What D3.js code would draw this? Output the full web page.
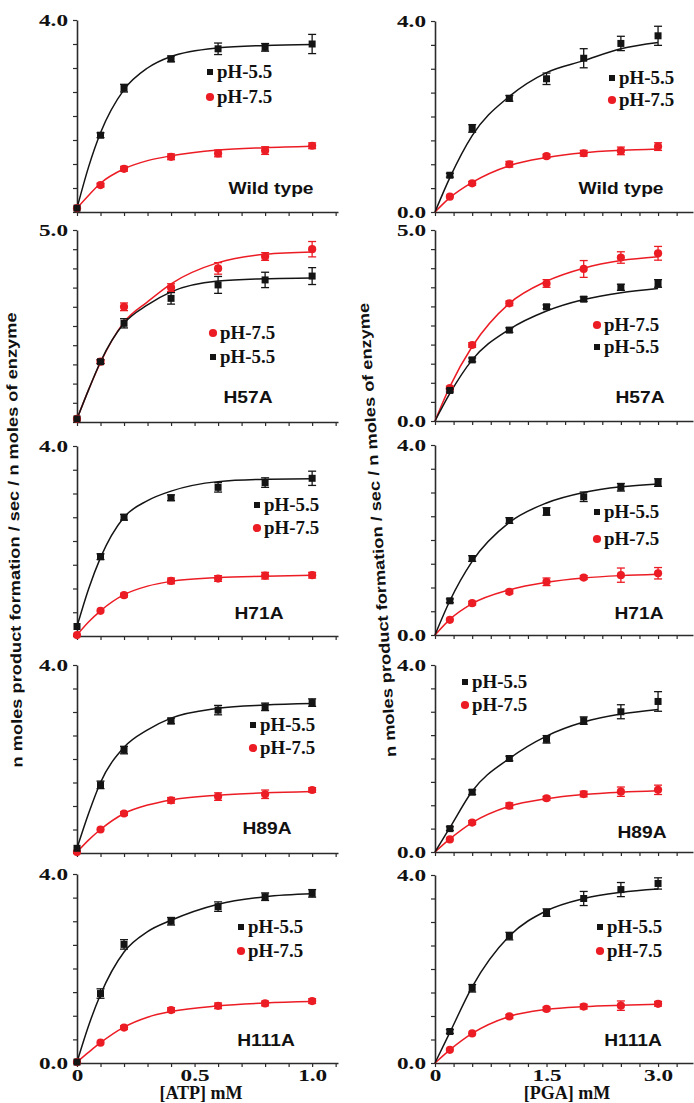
<!DOCTYPE html>
<html>
<head>
<meta charset="utf-8">
<script src="https://cdn.jsdelivr.net/npm/d3@7"></script>
<style>
  body { margin: 0; background: #fff; }
  svg { display: block; }
</style>
</head>
<body>
<svg id="chart" width="694" height="1103"></svg>
<script>
// substrate concentrations (mM)
const atpX = [0, 0.1, 0.2, 0.4, 0.6, 0.8, 1.0];
const pgaX = [0.2, 0.5, 1.0, 1.5, 2.0, 2.5, 3.0];
const atpFitX = [0, 0.05, 0.1, 0.2, 0.3, 0.4, 0.6, 0.8, 1.0];
const pgaFitX = [0, 0.2, 0.5, 1.0, 1.5, 2.0, 2.5, 3.0];

// Wild type
const wtAtp55 = [0.08, 1.60, 2.58, 3.19, 3.40, 3.43, 3.50];
const wtAtp55Err = [0, 0.05, 0.08, 0.06, 0.12, 0.08, 0.20];
const wtAtp75 = [0.08, 0.56, 0.90, 1.15, 1.22, 1.28, 1.38];
const wtAtp75Err = [0, 0.04, 0.05, 0.06, 0.07, 0.08, 0.06];
const wtAtp55Fit = [0.08, 0.95, 1.65, 2.55, 3.00, 3.24, 3.42, 3.47, 3.49];
const wtAtp75Fit = [0.08, 0.35, 0.60, 0.90, 1.07, 1.17, 1.29, 1.34, 1.37];

const wtPga55 = [0.77, 1.75, 2.38, 2.79, 3.22, 3.53, 3.69];
const wtPga55Err = [0.04, 0.08, 0.06, 0.12, 0.20, 0.15, 0.20];
const wtPga75 = [0.32, 0.60, 1.00, 1.17, 1.23, 1.28, 1.37];
const wtPga75Err = [0.03, 0.04, 0.06, 0.04, 0.06, 0.08, 0.08];
const wtPga55Fit = [0, 0.72, 1.60, 2.42, 2.92, 3.17, 3.42, 3.55];
const wtPga75Fit = [0, 0.30, 0.62, 0.97, 1.14, 1.24, 1.29, 1.32];

// H57A
const h57Atp55 = [0.08, 1.57, 2.57, 3.22, 3.57, 3.70, 3.80];
const h57Atp55Err = [0, 0.05, 0.12, 0.15, 0.22, 0.20, 0.22];
const h57Atp75 = [0.08, 1.57, 3.00, 3.50, 4.00, 4.31, 4.50];
const h57Atp75Err = [0, 0.05, 0.10, 0.10, 0.15, 0.10, 0.20];
const h57Atp55Fit = [0.08, 0.85, 1.57, 2.57, 3.05, 3.39, 3.67, 3.73, 3.75];
const h57Atp75Fit = [0.08, 0.85, 1.55, 2.60, 3.13, 3.60, 4.15, 4.37, 4.43];

const h57Pga55 = [0.80, 1.60, 2.38, 2.99, 3.19, 3.50, 3.60];
const h57Pga55Err = [0.04, 0.05, 0.06, 0.05, 0.06, 0.08, 0.10];
const h57Pga75 = [0.86, 1.99, 3.08, 3.60, 3.98, 4.28, 4.39];
const h57Pga75Err = [0.05, 0.06, 0.06, 0.10, 0.22, 0.15, 0.18];
const h57Pga55Fit = [0, 0.72, 1.60, 2.40, 2.88, 3.18, 3.36, 3.47];
const h57Pga75Fit = [0, 0.90, 1.95, 3.08, 3.66, 4.00, 4.20, 4.30];

// H71A
const h71Atp55 = [0.20, 1.67, 2.50, 2.91, 3.13, 3.23, 3.32];
const h71Atp55Err = [0, 0.06, 0.06, 0.06, 0.10, 0.10, 0.15];
const h71Atp75 = [0.02, 0.53, 0.86, 1.16, 1.21, 1.27, 1.28];
const h71Atp75Err = [0, 0.03, 0.04, 0.06, 0.06, 0.07, 0.06];
const h71Atp55Fit = [0.20, 1.00, 1.65, 2.50, 2.85, 3.05, 3.25, 3.30, 3.31];
const h71Atp75Fit = [0.02, 0.30, 0.53, 0.87, 1.05, 1.15, 1.23, 1.26, 1.28];

const h71Pga55 = [0.72, 1.61, 2.41, 2.60, 2.91, 3.11, 3.21];
const h71Pga55Err = [0.04, 0.06, 0.06, 0.08, 0.10, 0.08, 0.08];
const h71Pga75 = [0.32, 0.67, 0.91, 1.12, 1.21, 1.26, 1.30];
const h71Pga75Err = [0.03, 0.04, 0.04, 0.08, 0.04, 0.15, 0.12];
const h71Pga55Fit = [0, 0.72, 1.55, 2.37, 2.78, 3.00, 3.12, 3.18];
const h71Pga75Fit = [0, 0.33, 0.66, 0.95, 1.11, 1.20, 1.25, 1.28];

// H89A
const h89Atp55 = [0.10, 1.45, 2.19, 2.81, 3.04, 3.11, 3.20];
const h89Atp55Err = [0, 0.08, 0.08, 0.06, 0.10, 0.08, 0.08];
const h89Atp75 = [0.02, 0.50, 0.84, 1.12, 1.20, 1.25, 1.34];
const h89Atp75Err = [0, 0.03, 0.04, 0.06, 0.08, 0.09, 0.05];
const h89Atp55Fit = [0.10, 0.85, 1.50, 2.25, 2.62, 2.87, 3.08, 3.15, 3.18];
const h89Atp75Fit = [0.02, 0.28, 0.50, 0.84, 1.02, 1.13, 1.23, 1.28, 1.31];

const h89Pga55 = [0.50, 1.28, 2.00, 2.41, 2.81, 3.00, 3.22];
const h89Pga55Err = [0.04, 0.05, 0.05, 0.08, 0.08, 0.15, 0.21];
const h89Pga75 = [0.27, 0.63, 0.99, 1.15, 1.24, 1.29, 1.33];
const h89Pga75Err = [0.03, 0.04, 0.06, 0.04, 0.06, 0.10, 0.10];
const h89Pga55Fit = [0, 0.52, 1.30, 2.00, 2.48, 2.78, 2.95, 3.05];
const h89Pga75Fit = [0, 0.28, 0.63, 0.98, 1.14, 1.23, 1.28, 1.31];

// H111A
const h111Atp55 = [0.02, 1.47, 2.51, 3.00, 3.31, 3.52, 3.59];
const h111Atp55Err = [0, 0.10, 0.10, 0.08, 0.10, 0.08, 0.08];
const h111Atp75 = [0.02, 0.43, 0.75, 1.12, 1.21, 1.26, 1.31];
const h111Atp75Err = [0, 0.03, 0.04, 0.05, 0.06, 0.05, 0.05];
const h111Atp55Fit = [0.02, 0.80, 1.45, 2.35, 2.78, 3.02, 3.36, 3.52, 3.58];
const h111Atp75Fit = [0.02, 0.23, 0.43, 0.76, 0.97, 1.09, 1.21, 1.27, 1.30];

const h111Pga55 = [0.67, 1.59, 2.70, 3.20, 3.50, 3.69, 3.82];
const h111Pga55Err = [0.04, 0.08, 0.08, 0.08, 0.15, 0.15, 0.12];
const h111Pga75 = [0.28, 0.63, 0.99, 1.15, 1.20, 1.22, 1.26];
const h111Pga75Err = [0.03, 0.03, 0.04, 0.04, 0.05, 0.10, 0.05];
const h111Pga55Fit = [0, 0.65, 1.62, 2.70, 3.24, 3.50, 3.63, 3.70];
const h111Pga75Fit = [0, 0.28, 0.63, 0.99, 1.14, 1.20, 1.23, 1.25];

const legendLabels = { s55: "pH-5.5", s75: "pH-7.5" };
const yAxisTitle = "n moles product formation / sec / n moles of enzyme";
const xAxisTitles = ["[ATP] mM", "[PGA] mM"];
const xTickLabels = [[0, 0.5, 1.0], [0, 1.5, 3.0]];

const BLACK = "#141414";
const RED = "#ec1c24";
const AXIS = "#2b2b2b";
const SERIF = "'Liberation Serif', 'Times New Roman', serif";
const SANS = "'Liberation Sans', Arial, sans-serif";

// panel layout (col 0 = ATP, col 1 = PGA)
const panels = [
  { col: 0, top: 20, bottom: 212, ymax: 4, yLabels: [4], name: "Wild type", lab: [271, 188], leg: [210, 72, 97], order: ["s55", "s75"],
    s55: wtAtp55, e55: wtAtp55Err, f55: wtAtp55Fit, s75: wtAtp75, e75: wtAtp75Err, f75: wtAtp75Fit },
  { col: 1, top: 21, bottom: 212, ymax: 4, yLabels: [0, 4], name: "Wild type", lab: [621, 188], leg: [612, 78, 100], order: ["s55", "s75"],
    s55: wtPga55, e55: wtPga55Err, f55: wtPga55Fit, s75: wtPga75, e75: wtPga75Err, f75: wtPga75Fit },
  { col: 0, top: 230, bottom: 422, ymax: 5, yLabels: [5], name: "H57A", lab: [248, 397], leg: [213, 333, 357], order: ["s75", "s55"],
    s55: h57Atp55, e55: h57Atp55Err, f55: h57Atp55Fit, s75: h57Atp75, e75: h57Atp75Err, f75: h57Atp75Fit },
  { col: 1, top: 230, bottom: 421, ymax: 5, yLabels: [0, 5], name: "H57A", lab: [640, 397], leg: [597, 325, 347], order: ["s75", "s55"],
    s55: h57Pga55, e55: h57Pga55Err, f55: h57Pga55Fit, s75: h57Pga75, e75: h57Pga75Err, f75: h57Pga75Fit },
  { col: 0, top: 446, bottom: 636, ymax: 4, yLabels: [4], name: "H71A", lab: [259, 613], leg: [257, 505, 528], order: ["s55", "s75"],
    s55: h71Atp55, e55: h71Atp55Err, f55: h71Atp55Fit, s75: h71Atp75, e75: h71Atp75Err, f75: h71Atp75Fit },
  { col: 1, top: 445, bottom: 635, ymax: 4, yLabels: [0, 4], name: "H71A", lab: [639, 613], leg: [597, 512, 539], order: ["s55", "s75"],
    s55: h71Pga55, e55: h71Pga55Err, f55: h71Pga55Fit, s75: h71Pga75, e75: h71Pga75Err, f75: h71Pga75Fit },
  { col: 0, top: 665, bottom: 853, ymax: 4, yLabels: [4], name: "H89A", lab: [267, 828], leg: [253, 725, 748], order: ["s55", "s75"],
    s55: h89Atp55, e55: h89Atp55Err, f55: h89Atp55Fit, s75: h89Atp75, e75: h89Atp75Err, f75: h89Atp75Fit },
  { col: 1, top: 665, bottom: 852, ymax: 4, yLabels: [0, 4], name: "H89A", lab: [642, 832], leg: [465, 682, 705], order: ["s55", "s75"],
    s55: h89Pga55, e55: h89Pga55Err, f55: h89Pga55Fit, s75: h89Pga75, e75: h89Pga75Err, f75: h89Pga75Fit },
  { col: 0, top: 874, bottom: 1063, ymax: 4, yLabels: [0, 4], name: "H111A", lab: [266, 1040], leg: [241, 927, 951], order: ["s55", "s75"], bottomRow: true,
    s55: h111Atp55, e55: h111Atp55Err, f55: h111Atp55Fit, s75: h111Atp75, e75: h111Atp75Err, f75: h111Atp75Fit },
  { col: 1, top: 875, bottom: 1063, ymax: 4, yLabels: [0, 4], name: "H111A", lab: [633, 1040], leg: [600, 927, 951], order: ["s55", "s75"], bottomRow: true,
    s55: h111Pga55, e55: h111Pga55Err, f55: h111Pga55Fit, s75: h111Pga75, e75: h111Pga75Err, f75: h111Pga75Fit }
];

const colX = [
  d3.scaleLinear().domain([0, 1.11]).range([77, 338]),
  d3.scaleLinear().domain([0, 3.47]).range([435, 693])
];
const colDataX = [atpX, pgaX];
const colFitX = [atpFitX, pgaFitX];
const colTicks = [d3.range(0, 11.5).map((i) => i / 10), d3.range(0, 14).map((i) => i / 4)];

const svg = d3.select("#chart");

const stretch = (sel, sx) => sel.attr("transform", function () {
  const prev = d3.select(this).attr("transform") || "";
  return `${prev} scale(${sx},1)`;
});

const drawMarker = (sel, key, cx, cy, size) => {
  if (key === "s55") {
    sel.append("rect")
      .attr("x", cx - size / 2).attr("y", cy - size / 2)
      .attr("width", size).attr("height", size)
      .attr("fill", BLACK);
  } else {
    sel.append("circle")
      .attr("cx", cx).attr("cy", cy).attr("r", size / 2 + 0.6)
      .attr("fill", RED);
  }
};

panels.forEach((p) => {
  const x = colX[p.col];
  const y = d3.scaleLinear().domain([0, p.ymax]).range([p.bottom, p.top]);
  const g = svg.append("g");

  // y axis
  const yAxis = g.append("g")
    .attr("transform", `translate(${x(0)},0)`)
    .call(
      d3.axisLeft(y)
        .tickValues(d3.range(0, p.ymax * 2 + 1).map((i) => i / 2))
        .tickSize(4)
        .tickSizeOuter(0)
        .tickFormat((d) => (p.yLabels.includes(d) ? d.toFixed(1) : ""))
    );
  yAxis.select(".domain").attr("stroke", AXIS).attr("stroke-width", 1.6);
  yAxis.selectAll(".tick line").attr("stroke", AXIS).attr("stroke-width", 1.2);
  yAxis.selectAll(".tick text")
    .attr("x", -9 / 1.45)
    .attr("fill", "#111")
    .style("font", `bold 16px ${SERIF}`)
    .attr("transform", "scale(1.45,1)");

  // x axis
  const xAxis = g.append("g")
    .attr("transform", `translate(0,${y(0)})`)
    .call(
      d3.axisBottom(x)
        .tickValues(colTicks[p.col])
        .tickSize(4)
        .tickSizeOuter(0)
        .tickFormat((d) => {
          if (!p.bottomRow) return "";
          const hit = xTickLabels[p.col].find((v) => Math.abs(v - d) < 1e-6);
          if (hit === undefined) return "";
          return hit === 0 ? "0" : hit.toFixed(1);
        })
    );
  xAxis.select(".domain").attr("stroke", AXIS).attr("stroke-width", 1.6);
  xAxis.selectAll(".tick line").attr("stroke", AXIS).attr("stroke-width", 1.2);
  xAxis.selectAll(".tick text")
    .attr("y", 7)
    .attr("fill", "#111")
    .style("font", `bold 16px ${SERIF}`)
    .attr("transform", "scale(1.45,1)");

  const line = d3.line()
    .x((d) => x(d[0]))
    .y((d) => y(d[1]))
    .curve(d3.curveMonotoneX);

  const series = [
    { key: "s75", color: RED, vals: p.s75, errs: p.e75, fit: p.f75 },
    { key: "s55", color: BLACK, vals: p.s55, errs: p.e55, fit: p.f55 }
  ];

  // fitted curves
  series.forEach((s) => {
    g.append("path")
      .datum(colFitX[p.col].map((xv, i) => [xv, s.fit[i]]))
      .attr("d", line)
      .attr("fill", "none")
      .attr("stroke", s.color)
      .attr("stroke-width", 1.5);
  });

  // error bars + markers
  series.forEach((s) => {
    const pts = colDataX[p.col].map((xv, i) => ({ x: xv, v: s.vals[i], e: s.errs[i] }));
    const eb = g.append("g").attr("stroke", s.color).attr("stroke-width", 1.3);
    pts.filter((d) => d.e > 0.03).forEach((d) => {
      const cx = x(d.x);
      eb.append("line").attr("x1", cx).attr("x2", cx).attr("y1", y(d.v - d.e)).attr("y2", y(d.v + d.e));
      eb.append("line").attr("x1", cx - 4).attr("x2", cx + 4).attr("y1", y(d.v - d.e)).attr("y2", y(d.v - d.e));
      eb.append("line").attr("x1", cx - 4).attr("x2", cx + 4).attr("y1", y(d.v + d.e)).attr("y2", y(d.v + d.e));
    });
    const mk = g.append("g");
    pts.forEach((d) => drawMarker(mk, s.key, x(d.x), y(d.v), 7));
  });

  // legend
  p.order.forEach((key, i) => {
    const ly = p.leg[1 + i];
    const lg = g.append("g");
    drawMarker(lg, key, p.leg[0], ly, key === "s55" ? 6 : 7);
    lg.append("text")
      .attr("transform", `translate(${p.leg[0] + 7},${ly})`)
      .attr("dy", "0.36em")
      .attr("fill", "#111")
      .style("font", `bold 18px ${SERIF}`)
      .text(legendLabels[key]);
    stretch(lg.select("text"), 1.05);
  });

  // panel name
  const nm = g.append("text")
    .attr("transform", `translate(${p.lab[0]},${p.lab[1]})`)
    .attr("text-anchor", "middle")
    .attr("dy", "0.36em")
    .attr("fill", "#111")
    .style("font", `bold 16px ${SANS}`)
    .text(p.name);
  stretch(nm, 1.2);
});

// x axis titles
xAxisTitles.forEach((t, i) => {
  svg.append("text")
    .attr("transform", `translate(${[201, 567][i]},1099)`)
    .attr("text-anchor", "middle")
    .attr("fill", "#111")
    .style("font", `bold 18px ${SERIF}`)
    .text(t);
});

// y axis titles, one per column
[[14, 540, -90.8], [377, 530, -93.5]].forEach(([cx, cy, rot]) => {
  svg.append("text")
    .attr("transform", `translate(${cx},${cy}) rotate(${rot})`)
    .attr("text-anchor", "middle")
    .attr("dy", "0.36em")
    .attr("fill", "#111")
    .attr("textLength", 455)
    .attr("lengthAdjust", "spacingAndGlyphs")
    .style("font", `bold 15px ${SANS}`)
    .text(yAxisTitle);
});
</script>
</body>
</html>
